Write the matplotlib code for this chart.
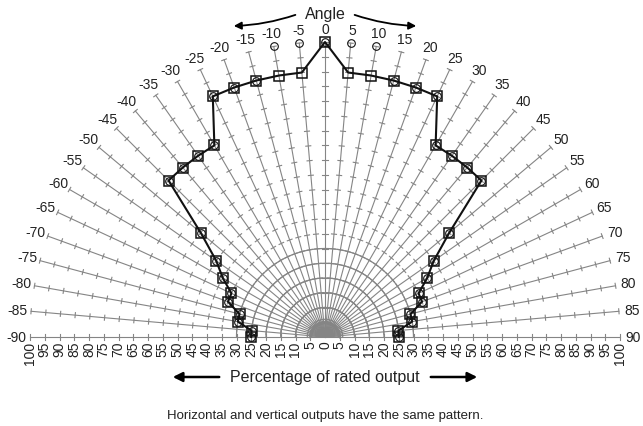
import numpy as np
import matplotlib.pyplot as plt
from matplotlib.patches import FancyArrowPatch

plt.rcParams['font.family'] = ['Liberation Sans', 'DejaVu Sans']

# data: angle (deg) and percentage of rated output
angles = list(range(-90, 95, 5))
output_sq = [25, 25, 30, 30, 35, 35, 40, 45, 55, 75, 75, 75, 75, 90, 90, 90, 90, 90,
             100, 90, 90, 90, 90, 90, 75, 75, 75, 75, 55, 45, 40, 35, 35, 30, 30, 25, 25]
output_ci = [25, 25, 30, 30, 35, 35, 40, 45, 55, 75, 75, 75, 75, 90, 90, 90, 100, 100,
             100, 100, 100, 90, 90, 90, 75, 75, 75, 75, 55, 45, 40, 35, 35, 30, 30, 25, 25]
pct_ticks = list(range(-100, 105, 5))
pct_labels = [str(abs(p)) for p in pct_ticks]

grid_c = '#858585'

fig = plt.figure(figsize=(6.43, 4.27), dpi=100)
ax = fig.add_axes([30 / 643, 89 / 427, 590 / 643, 295 / 427])
ax.set_xlim(-100, 100)
ax.set_ylim(0, 100)
ax.axis('off')


def xy(a, r):
    t = np.radians(a)
    return np.asarray(r) * np.sin(t), np.asarray(r) * np.cos(t)


# inner semicircles
th = np.linspace(-90, 90, 200)
for r in [1.5, 3, 4.5, 6, 10, 15, 20, 25, 30]:
    x, y = xy(th, r)
    ax.plot(x, y, color=grid_c, lw=0.9, clip_on=False)
x, y = xy(th, 5.5)
ax.fill(x, y, color='#a3a3a3', lw=0, clip_on=False)

# spokes with tick marks every 5 %
tk = 0.85
for a in angles:
    x, y = xy(a, [0, 100])
    ax.plot(x, y, color=grid_c, lw=0.8, clip_on=False)
    t = np.radians(a)
    for r in range(5, 105, 5):
        cx, cy = r * np.sin(t), r * np.cos(t)
        px, py = np.cos(t) * tk, -np.sin(t) * tk
        ax.plot([cx - px, cx + px], [cy - py, cy + py], color=grid_c, lw=0.8,
                clip_on=False)
    lx, ly = xy(a, 104.5)
    ax.text(lx, ly, str(a), ha='center', va='center', fontsize=10, color='#222222')

# the pattern
x, y = xy(np.array(angles), output_sq)
ax.plot(x, y, color='#111111', lw=1.5, marker='s', ms=7, mfc='none', mec='#111111',
        mew=1.1, clip_on=False, zorder=5)
x, y = xy(np.array(angles), output_ci)
ax.plot(x, y, ls='none', marker='o', ms=5.5, mfc='none', mec='#111111', mew=0.8,
        clip_on=False, zorder=6)

# percentage labels along the baseline
for p, lab in zip(pct_ticks, pct_labels):
    ax.text(p, -1.2, lab, rotation=90, ha='center', va='top', fontsize=10,
            color='#222222')

# axis titles with arrows
fig.text(325 / 643, 1 - 378 / 427, 'Percentage of rated output', ha='center',
         va='center', fontsize=11.5, color='#222222')
fig.add_artist(FancyArrowPatch((222 / 643, 1 - 378 / 427), (170 / 643, 1 - 378 / 427),
                               transform=fig.transFigure, arrowstyle='-|>',
                               mutation_scale=14, lw=1.8, color='k'))
fig.add_artist(FancyArrowPatch((428 / 643, 1 - 378 / 427), (480 / 643, 1 - 378 / 427),
                               transform=fig.transFigure, arrowstyle='-|>',
                               mutation_scale=14, lw=1.8, color='k'))

fig.text(325 / 643, 1 - 14 / 427, 'Angle', ha='center', va='center', fontsize=11.5,
         color='#222222')
fig.add_artist(FancyArrowPatch((298 / 643, 1 - 15 / 427), (231 / 643, 1 - 27 / 427),
                               transform=fig.transFigure, arrowstyle='-|>',
                               connectionstyle='arc3,rad=-0.08',
                               mutation_scale=11, lw=1.3, color='k'))
fig.add_artist(FancyArrowPatch((352 / 643, 1 - 15 / 427), (419 / 643, 1 - 27 / 427),
                               transform=fig.transFigure, arrowstyle='-|>',
                               connectionstyle='arc3,rad=0.08',
                               mutation_scale=11, lw=1.3, color='k'))

fig.text(325 / 643, 1 - 416 / 427,
         'Horizontal and vertical outputs have the same pattern.', ha='center',
         va='center', fontsize=9.5, color='#222222')

fig.savefig('out.png', dpi=100)
